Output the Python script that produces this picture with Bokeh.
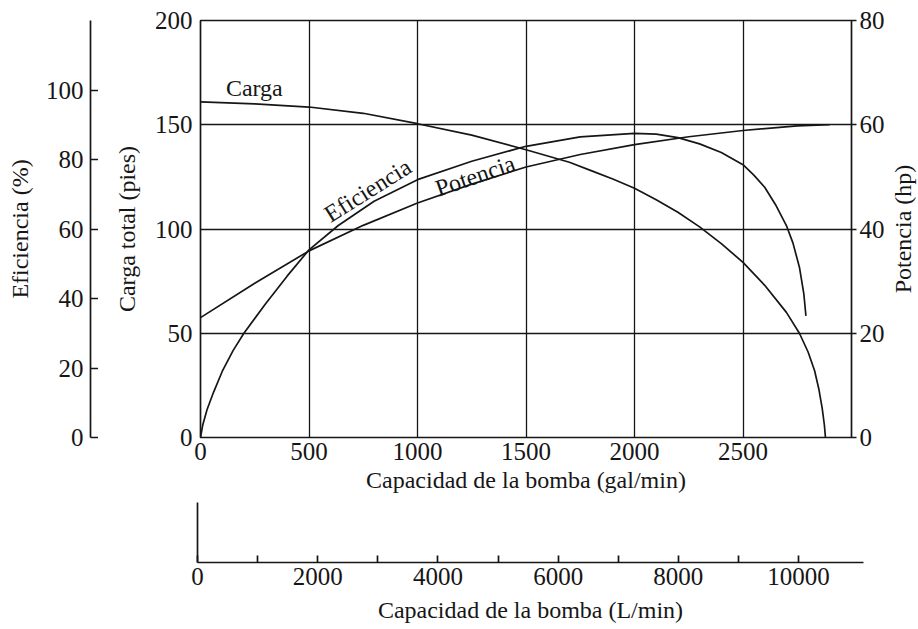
from bokeh.plotting import figure
from bokeh.layouts import column, row
from bokeh.models import Range1d, LinearAxis, FixedTicker
from bokeh.embed import file_html
from bokeh.resources import INLINE
from bokeh.core.properties import value

# ---------------- data ----------------
# Carga total (pies) vs capacidad (gal/min)
flow_carga = [0, 250, 500, 750, 1000, 1250, 1500, 1600, 1700, 1800, 1900, 2000, 2100, 2200, 2300,
              2400, 2500, 2600, 2700, 2760, 2800, 2830, 2850, 2865, 2875, 2880]
carga_ft = [161, 160, 158.5, 155.5, 150.5, 145, 138, 135, 132, 128, 124, 119.5, 114, 108, 101,
            93, 84, 73, 60, 50, 41, 32, 23, 14, 6, 0]

# Eficiencia (%) vs capacidad (gal/min)
flow_eff = [0, 10, 30, 60, 100, 150, 200, 300, 400, 500, 635, 800, 1000, 1250, 1500, 1750, 2000,
            2100, 2200, 2300, 2400, 2500, 2550, 2600, 2650, 2700, 2730, 2760, 2780, 2790]
eff_pct = [0, 3.5, 8, 13, 19, 25, 30, 38.5, 46.5, 54, 61, 68, 74.2, 79.5, 83.8, 86.5, 87.5,
           87.3, 86.3, 84.5, 82, 78.5, 75.5, 72, 67, 61, 56, 49, 41.5, 35]

# Potencia (hp) vs capacidad (gal/min)
flow_pot = [0, 250, 500, 750, 1000, 1250, 1500, 1750, 2000, 2250, 2500, 2750, 2900]
pot_hp = [23, 29.6, 35.8, 40.7, 45, 48.6, 51.9, 54.3, 56.2, 57.7, 58.9, 59.8, 60]

gal_ticks = [0, 500, 1000, 1500, 2000, 2500]
carga_ticks = [0, 50, 100, 150, 200]
eff_ticks = [0, 20, 40, 60, 80, 100]
hp_ticks = [0, 20, 40, 60, 80]
lmin_major = [0, 2000, 4000, 6000, 8000, 10000]
lmin_minor = [1000, 3000, 5000, 7000, 9000]

curve_labels = ["Carga", "Eficiencia", "Potencia"]
label_flow = [248, 771, 1266]
label_ft = [167.4, 118.5, 125.5]
label_angle = [0.0, 0.56, 0.33]

# ---------------- style ----------------
FONT = "Liberation Serif"
INK = "#161616"
TICK_FS = "25px"
TITLE_FS = "24px"
LW = 1.7

W_EFF, W_MAIN, W_RIGHT = 98, 789, 31
H_TOP, H_BOT = 501, 127


def style_axis(ax, label=None, label_standoff=10, tick_standoff=8):
    ax.major_label_text_font = FONT
    ax.major_label_text_font_size = TICK_FS
    ax.major_label_text_color = INK
    ax.major_label_standoff = tick_standoff
    ax.axis_line_color = INK
    ax.axis_line_width = LW
    ax.major_tick_line_color = INK
    ax.major_tick_line_width = LW
    ax.minor_tick_line_color = None
    if label is not None:
        ax.axis_label = label
        ax.axis_label_text_font = FONT
        ax.axis_label_text_font_size = TITLE_FS
        ax.axis_label_text_font_style = "normal"
        ax.axis_label_text_color = INK
        ax.axis_label_standoff = label_standoff


def strip(width, border_left, border_right, y_range):
    f = figure(width=width, height=H_TOP, output_backend="svg", toolbar_location=None,
               x_range=Range1d(0, 1), y_range=y_range,
               x_axis_location=None, y_axis_location="left",
               min_border_left=border_left, min_border_right=border_right,
               min_border_top=20, min_border_bottom=64)
    f.outline_line_color = None
    f.grid.visible = False
    return f


# ---------------- efficiency axis (left strip) ----------------
pe = strip(W_EFF, 90, 0, Range1d(0, 120))
ea = pe.yaxis[0]
ea.ticker = FixedTicker(ticks=eff_ticks)
style_axis(ea, "Eficiencia (%)", label_standoff=10, tick_standoff=7)
ea.major_tick_in = 8
ea.major_tick_out = 0

# ---------------- main chart ----------------
p = figure(width=W_MAIN, height=H_TOP, output_backend="svg", toolbar_location=None,
           x_range=Range1d(0, 3000), y_range=Range1d(0, 200),
           min_border_left=102, min_border_right=33, min_border_top=20, min_border_bottom=64)
p.extra_y_ranges = {"eff": Range1d(0, 120), "hp": Range1d(0, 80)}
p.outline_line_color = INK
p.outline_line_width = LW
p.background_fill_color = "white"

p.xaxis.ticker = FixedTicker(ticks=gal_ticks)
p.yaxis.ticker = FixedTicker(ticks=carga_ticks)
p.xgrid.ticker = FixedTicker(ticks=gal_ticks)
p.ygrid.ticker = FixedTicker(ticks=carga_ticks)
for g in (p.xgrid[0], p.ygrid[0]):
    g.grid_line_color = INK
    g.grid_line_width = 1.3

xa = p.xaxis[0]
style_axis(xa, "Capacidad de la bomba (gal/min)", label_standoff=4, tick_standoff=5)
xa.axis_line_color = None
xa.major_tick_in = 0
xa.major_tick_out = 0

ya = p.yaxis[0]
style_axis(ya, "Carga total (pies)", label_standoff=12, tick_standoff=8)
ya.axis_line_color = None
ya.major_tick_in = 0
ya.major_tick_out = 0

ra = LinearAxis(y_range_name="hp", ticker=FixedTicker(ticks=hp_ticks))
style_axis(ra, tick_standoff=3)
ra.major_tick_in = 0
ra.major_tick_out = 5
ra.axis_line_color = None
p.add_layout(ra, "right")

p.line(flow_carga, carga_ft, line_color=INK, line_width=LW)
p.line(flow_eff, eff_pct, line_color=INK, line_width=LW, y_range_name="eff")
p.line(flow_pot, pot_hp, line_color=INK, line_width=LW, y_range_name="hp")

p.text(x=label_flow, y=label_ft, text=curve_labels, angle=label_angle,
       text_font=value(FONT), text_font_size=TITLE_FS, text_color=INK,
       text_align="center", text_baseline="middle")

# ---------------- power title (right strip, reads bottom-to-top) ----------------
pr = strip(W_RIGHT, 30, 0, Range1d(0, 80))
pa = pr.yaxis[0]
pa.ticker = FixedTicker(ticks=[])
style_axis(pa, "Potencia (hp)", label_standoff=3)
pa.axis_line_color = None
pa.major_tick_in = 0
pa.major_tick_out = 0

# ---------------- L/min axis (bottom strip) ----------------
pl = figure(width=W_EFF + W_MAIN + W_RIGHT, height=H_BOT, output_backend="svg", toolbar_location=None,
            x_range=Range1d(0, 11080), y_range=Range1d(0, 1),
            min_border_left=197, min_border_right=55, min_border_top=1, min_border_bottom=66)
pl.outline_line_color = None
pl.grid.visible = False
la = pl.xaxis[0]
la.ticker = FixedTicker(ticks=lmin_major, minor_ticks=lmin_minor)
style_axis(la, "Capacidad de la bomba (L/min)", label_standoff=9, tick_standoff=5)
la.major_tick_in = 7
la.major_tick_out = 0
la.minor_tick_line_color = INK
la.minor_tick_line_width = LW
la.minor_tick_in = 7
la.minor_tick_out = 0
lv = pl.yaxis[0]
lv.ticker = FixedTicker(ticks=[])
lv.axis_line_color = INK
lv.axis_line_width = LW
lv.major_tick_in = 0
lv.major_tick_out = 0
lv.minor_tick_line_color = None

layout = column(row(pe, p, pr), pl)
open("out.html", "w").write(file_html(layout, INLINE))
